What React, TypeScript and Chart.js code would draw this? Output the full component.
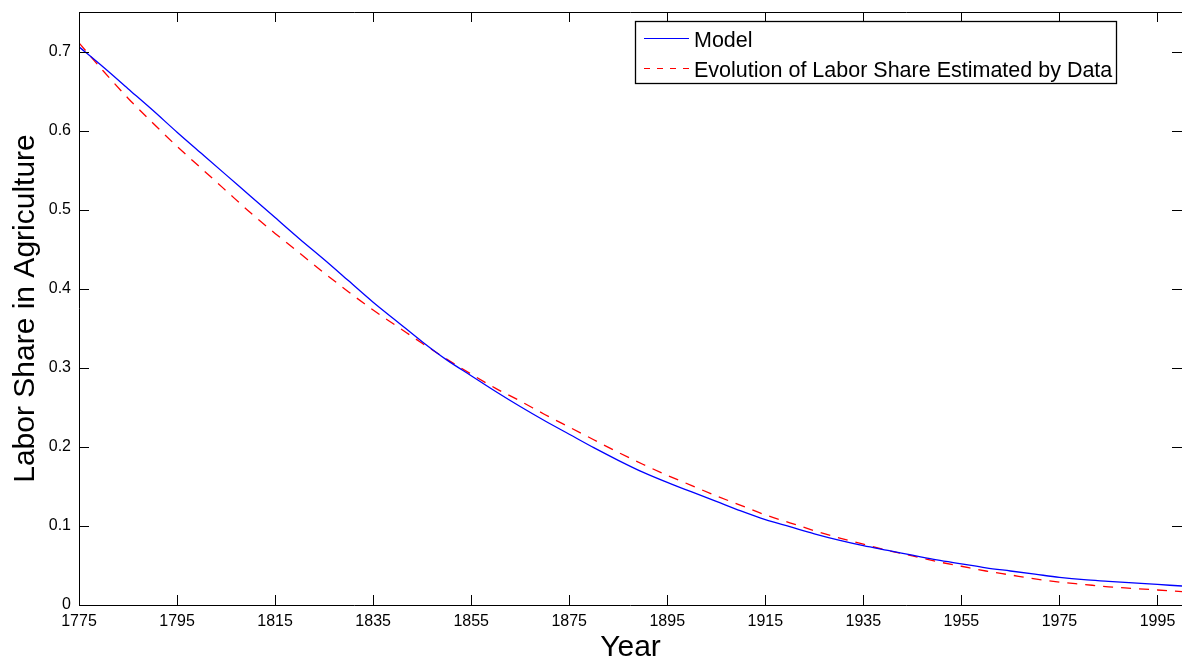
import React, { useEffect, useRef } from "react";
import { Chart, registerables } from "chart.js";

Chart.register(...registerables);

// Years sampled every five years
const years = [
  1775, 1780, 1785, 1790, 1795, 1800, 1805, 1810, 1815, 1820, 1825, 1830, 1835, 1840, 1845,
  1850, 1855, 1860, 1865, 1870, 1875, 1880, 1885, 1890, 1895, 1900, 1905, 1910, 1915, 1920,
  1925, 1930, 1935, 1940, 1945, 1950, 1955, 1960, 1965, 1970, 1975, 1980, 1985, 1990, 1995, 2000,
];

// Model-implied labor share in agriculture
const modelShare = [
  0.706, 0.68, 0.653, 0.626, 0.598, 0.571, 0.544, 0.517, 0.49, 0.463, 0.437, 0.41, 0.383, 0.358, 0.333,
  0.31, 0.29, 0.27, 0.251, 0.233, 0.216, 0.199, 0.183, 0.168, 0.155, 0.143, 0.131, 0.119, 0.108, 0.099,
  0.09, 0.082, 0.075, 0.069, 0.063, 0.057, 0.052, 0.047, 0.043, 0.039, 0.035, 0.032, 0.03, 0.028, 0.026, 0.024,
];

// Labor share estimated from the data
const dataShare = [
  0.711, 0.675, 0.641, 0.61, 0.58, 0.552, 0.524, 0.496, 0.47, 0.445, 0.42, 0.396, 0.373, 0.352, 0.331,
  0.311, 0.292, 0.274, 0.258, 0.241, 0.225, 0.209, 0.193, 0.178, 0.164, 0.151, 0.138, 0.126, 0.114, 0.104,
  0.094, 0.085, 0.077, 0.069, 0.062, 0.055, 0.049, 0.043, 0.038, 0.033, 0.029, 0.026, 0.023, 0.021, 0.019, 0.017,
];

const xTicks = [1775, 1795, 1815, 1835, 1855, 1875, 1895, 1915, 1935, 1955, 1975, 1995];
const yTicks = [0, 0.1, 0.2, 0.3, 0.4, 0.5, 0.6, 0.7];

const seriesLabels = ["Model", "Evolution of Labor Share Estimated by Data"];

const FONT = "'Liberation Sans', Arial, Helvetica, sans-serif";
const W = 1182;
const H = 661;

// Frame, inward tick marks on all four sides, and the boxed legend
const framePlugin = {
  id: "frameTicksLegend",
  afterDatasetsDraw(chart: any) {
    const { ctx, chartArea } = chart;
    const { left, right, top, bottom } = chartArea;
    const xs = chart.scales.x;
    const ys = chart.scales.y;
    const tl = 10;
    ctx.save();
    ctx.strokeStyle = "#000";
    ctx.lineWidth = 1;
    ctx.beginPath();
    // left, top, bottom borders
    ctx.moveTo(left + 0.5, top);
    ctx.lineTo(left + 0.5, bottom + 0.5);
    ctx.moveTo(left, top + 0.5);
    ctx.lineTo(right, top + 0.5);
    ctx.moveTo(left, bottom + 0.5);
    ctx.lineTo(right, bottom + 0.5);
    for (const v of xTicks) {
      const px = Math.round(xs.getPixelForValue(v)) + 0.5;
      ctx.moveTo(px, bottom);
      ctx.lineTo(px, bottom - tl);
      ctx.moveTo(px, top);
      ctx.lineTo(px, top + tl);
    }
    for (const v of yTicks) {
      const py = Math.round(ys.getPixelForValue(v)) + 0.5;
      ctx.moveTo(left, py);
      ctx.lineTo(left + tl, py);
      ctx.moveTo(right, py);
      ctx.lineTo(right - tl, py);
    }
    ctx.stroke();

    // legend box
    const bx = 635.5, by = 21.5, bw = 481, bh = 62;
    ctx.fillStyle = "#fff";
    ctx.fillRect(bx, by, bw, bh);
    ctx.strokeStyle = "#000";
    ctx.lineWidth = 1.3;
    ctx.strokeRect(bx, by, bw, bh);

    const rows = [38.5, 68.5];
    chart.data.datasets.forEach((ds: any, i: number) => {
      const y = rows[i];
      ctx.beginPath();
      ctx.strokeStyle = ds.borderColor;
      ctx.lineWidth = 1.2;
      ctx.setLineDash(i === 1 ? [6, 7] : []);
      ctx.moveTo(644, y);
      ctx.lineTo(689, y);
      ctx.stroke();
      ctx.setLineDash([]);
      ctx.fillStyle = "#000";
      ctx.font = `21.5px ${FONT}`;
      ctx.textBaseline = "alphabetic";
      ctx.textAlign = "left";
      ctx.fillText(ds.label, 694, y + 8);
    });
    ctx.restore();
  },
};

export default function App() {
  const canvasRef = useRef<HTMLCanvasElement | null>(null);

  useEffect(() => {
    const canvas = canvasRef.current;
    if (!canvas) return;
    const chart = new Chart(canvas, {
      type: "line",
      data: {
        datasets: [
          {
            label: seriesLabels[0],
            data: years.map((yr, i) => ({ x: yr, y: modelShare[i] })),
            borderColor: "#0000ff",
            borderWidth: 1.3,
            pointRadius: 0,
            cubicInterpolationMode: "monotone",
            fill: false,
          },
          {
            label: seriesLabels[1],
            data: years.map((yr, i) => ({ x: yr, y: dataShare[i] })),
            borderColor: "#ff0000",
            borderWidth: 1.3,
            borderDash: [10, 8],
            pointRadius: 0,
            cubicInterpolationMode: "monotone",
            fill: false,
          },
        ],
      },
      options: {
        responsive: false,
        animation: false,
        devicePixelRatio: 1,
        layout: { padding: { top: 12, right: 0, left: 0, bottom: 0 } },
        plugins: {
          legend: { display: false },
          tooltip: { enabled: false },
        },
        scales: {
          x: {
            type: "linear",
            min: 1775,
            max: 2000,
            border: { display: false },
            grid: { display: false, drawTicks: false },
            afterBuildTicks: (scale: any) => {
              scale.ticks = xTicks.map((v) => ({ value: v }));
            },
            afterFit: (scale: any) => {
              scale.height = 56;
              scale.paddingLeft = 0;
              scale.paddingRight = 0;
            },
            ticks: {
              color: "#000",
              padding: 7,
              maxRotation: 0,
              autoSkip: false,
              font: { family: FONT, size: 16 },
              callback: (v: any) => String(v),
            },
            title: {
              display: true,
              text: "Year",
              color: "#000",
              font: { family: FONT, size: 30, lineHeight: 0.9 },
              padding: 0,
            },
          },
          y: {
            type: "linear",
            min: 0,
            max: 0.75,
            border: { display: false },
            grid: { display: false, drawTicks: false },
            afterBuildTicks: (scale: any) => {
              scale.ticks = yTicks.map((v) => ({ value: v }));
            },
            afterFit: (scale: any) => {
              scale.width = 79;
              scale.paddingTop = 0;
              scale.paddingBottom = 0;
            },
            ticks: {
              color: "#000",
              padding: 8,
              autoSkip: false,
              font: { family: FONT, size: 16 },
              callback: (v: any) => String(Number(Number(v).toFixed(1))),
            },
            title: {
              display: true,
              text: "Labor Share in Agriculture",
              color: "#000",
              font: { family: FONT, size: 30, lineHeight: 1.2 },
              padding: { top: 8, bottom: 0 },
            },
          },
        },
      },
      plugins: [framePlugin],
    });
    return () => chart.destroy();
  }, []);

  return (
    <div style={{ position: "fixed", left: 0, top: 0, width: W, height: H, background: "#fff" }}>
      <canvas ref={canvasRef} width={W} height={H} style={{ width: W, height: H, display: "block" }} />
    </div>
  );
}
